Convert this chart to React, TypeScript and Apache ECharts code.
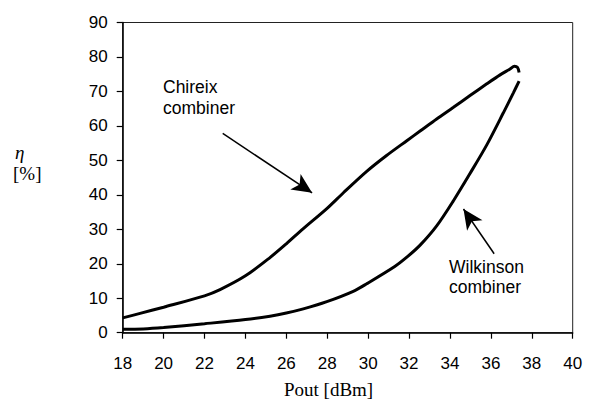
import React, { useEffect, useRef } from "react";
import * as echarts from "echarts";

const chireixX = [18, 18.85, 20, 22, 22.76, 24, 25.2, 26, 26.83, 27.98, 28.79, 29.93, 30.9, 31.89, 32.54, 33.35, 34.17, 34.98, 35.8, 36.45, 36.94, 37.15, 37.3, 37.38];
const chireixY = [4.3, 5.6, 7.4, 10.7, 12.5, 16.5, 21.8, 25.8, 30.2, 36.0, 40.6, 46.8, 51.4, 55.7, 58.5, 62.0, 65.4, 68.8, 72.2, 74.8, 76.5, 77.3, 77.0, 75.5];

const wilkinsonX = [18, 19, 20, 22, 24, 25.2, 26, 26.83, 27.98, 29.27, 29.93, 31.3, 31.89, 32.54, 33.35, 34.17, 34.98, 35.8, 36.61, 37.1, 37.38];
const wilkinsonY = [1.0, 1.1, 1.5, 2.6, 3.8, 4.8, 5.7, 6.9, 9.0, 12.0, 14.2, 19.2, 21.9, 25.4, 31.0, 38.3, 46.2, 54.5, 63.8, 69.6, 73.0];

const chireixArrow = [[22.89, 57.8], [27.26, 40.6]];
const wilkinsonArrow = [[36.16, 22.9], [34.66, 35.9]];

const xMin = 18, xMax = 40, xStep = 2;
const yMin = 0, yMax = 90, yStep = 10;

const SANS = "'Liberation Sans', Arial, sans-serif";
const SERIF = "'Liberation Serif', 'Times New Roman', serif";

export default function App() {
  const ref = useRef<HTMLDivElement>(null);
  useEffect(() => {
    if (!ref.current) return;
    const chart = echarts.init(ref.current, undefined, { renderer: "svg" });
    const toPairs = (xs: number[], ys: number[]) => xs.map((x, i) => [x, ys[i]]);
    const arrowLine = (pts: number[][]) => ({
      silent: true, symbol: ["none", "arrow"], symbolSize: [14, 20],
      label: { show: false },
      lineStyle: { color: "#000", width: 1.5, type: "solid" },
      data: [[{ coord: pts[0] }, { coord: pts[1] }]],
    });
    chart.setOption({
      animation: false,
      backgroundColor: "#fff",
      grid: {
        left: 122.7, right: 17.3, top: 22.5, bottom: 66.3,
        show: true, borderColor: "#222", borderWidth: 1, backgroundColor: "transparent",
      },
      xAxis: {
        type: "value", min: xMin, max: xMax, interval: xStep,
        axisLine: { show: true, onZero: false, lineStyle: { color: "#000", width: 1.5 } },
        axisTick: { show: true, inside: false, length: 6, lineStyle: { color: "#000", width: 1.2 } },
        axisLabel: { color: "#000", fontFamily: SANS, fontSize: 17, margin: 22 },
        splitLine: { show: false },
      },
      yAxis: {
        type: "value", min: yMin, max: yMax, interval: yStep,
        axisLine: { show: true, onZero: false, lineStyle: { color: "#000", width: 1.5 } },
        axisTick: { show: true, inside: false, length: 6, lineStyle: { color: "#000", width: 1.2 } },
        axisLabel: { color: "#000", fontFamily: SANS, fontSize: 17, margin: 15 },
        splitLine: { show: false },
      },
      series: [
        {
          name: "Chireix combiner", type: "line", data: toPairs(chireixX, chireixY),
          showSymbol: false, smooth: 0.3,
          lineStyle: { color: "#000", width: 3 },
          markLine: arrowLine(chireixArrow),
        },
        {
          name: "Wilkinson combiner", type: "line", data: toPairs(wilkinsonX, wilkinsonY),
          showSymbol: false, smooth: 0.3,
          lineStyle: { color: "#000", width: 3 },
          markLine: arrowLine(wilkinsonArrow),
        },
      ],
      graphic: [
        { type: "text", left: 163, top: 78, style: { text: "Chireix", fill: "#000", font: `17.5px ${SANS}` } },
        { type: "text", left: 163, top: 99, style: { text: "combiner", fill: "#000", font: `17.5px ${SANS}` } },
        { type: "text", left: 449, top: 258, style: { text: "Wilkinson", fill: "#000", font: `17.5px ${SANS}` } },
        { type: "text", left: 449, top: 278, style: { text: "combiner", fill: "#000", font: `17.5px ${SANS}` } },
        { type: "text", left: 15, top: 143, style: { text: "η", fill: "#000", font: `italic 19px ${SERIF}` } },
        { type: "text", left: 13, top: 164, style: { text: "[%]", fill: "#000", font: `19px ${SERIF}` } },
        { type: "text", left: 284, top: 380, style: { text: "Pout [dBm]", fill: "#000", font: `19px ${SERIF}` } },
      ],
    });
    return () => chart.dispose();
  }, []);
  return <div ref={ref} style={{ position: "absolute", left: 0, top: 0, width: 590, height: 399 }} />;
}
